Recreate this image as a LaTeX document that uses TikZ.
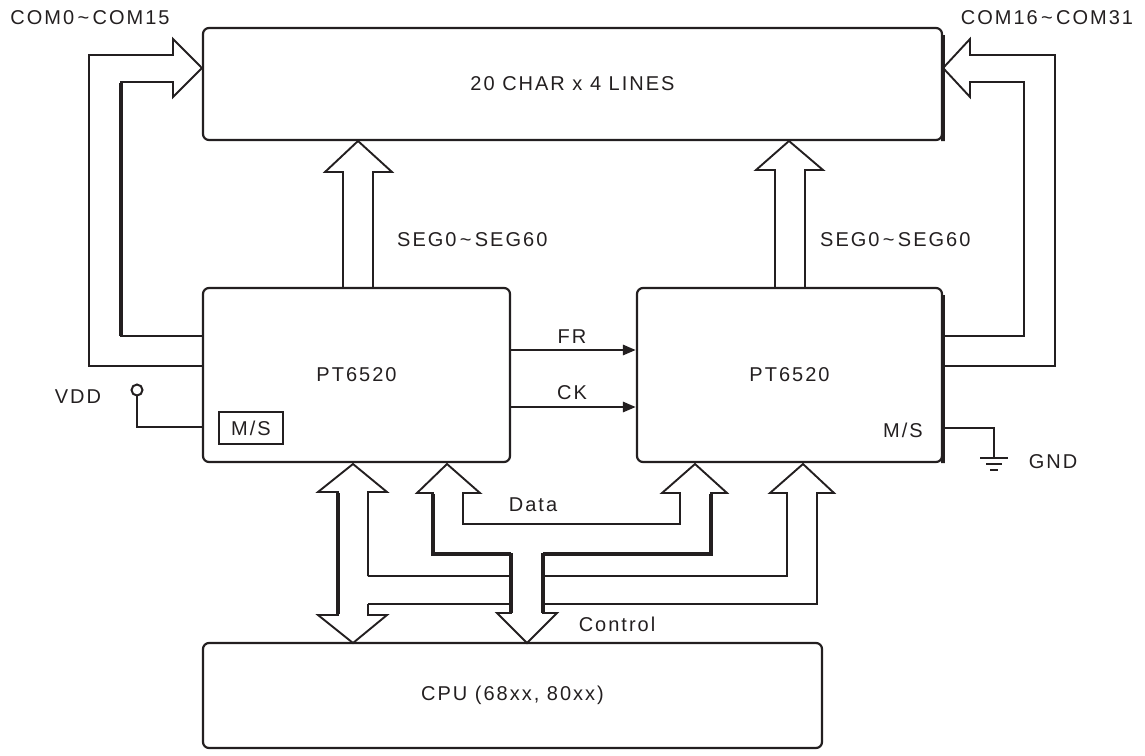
\documentclass[tikz,border=0pt]{standalone}
\usepackage{fontspec}
\setmainfont{Liberation Sans}[LetterSpace=10]
\usetikzlibrary{arrows.meta}
\definecolor{ink}{RGB}{35,31,32}
\begin{document}
\begin{tikzpicture}[x=1pt,y=-1pt,
  every node/.style={font=\fontsize{20}{24}\selectfont, text=ink, inner sep=0pt},
  box/.style={draw=ink, line width=2.2pt, rounded corners=6pt},
  bus/.style={draw=ink, line width=1.9pt, line join=miter},
  heavy/.style={draw=ink, line width=3.4pt},
  wire/.style={draw=ink, line width=2pt},
  sig/.style={draw=ink, line width=2.8pt, -{Triangle[length=13pt,width=10pt]}}]
\useasboundingbox (0,0) rectangle (1145,755);
% boxes
\node[box, minimum width=739pt, minimum height=112pt] (lcd) at (572.5,84) {20 CHAR x 4 LINES};
\node[box, minimum width=307pt, minimum height=174pt] (pa) at (356.5,375) {PT6520};
\node[box, minimum width=305pt, minimum height=174pt] (pb) at (789.5,375) {PT6520};
\node[box, minimum width=619pt, minimum height=105pt] (cpu) at (512.5,695.5) {CPU (68xx, 80xx)};
\node[draw=ink, line width=1.6pt, minimum width=64pt, minimum height=32pt] (msa) at (251,428) {M/S};
\node (msb) at (903,430) {M/S};
% labels
\node (com0) at (90,18) {COM0\,\char`~\,COM15};
\node (com16) at (1047,18) {COM16\,\char`~\,COM31};
\node[anchor=west] (sega) at (397,240) {SEG0\,\char`~\,SEG60};
\node[anchor=west] (segb) at (820,240) {SEG0\,\char`~\,SEG60};
\node (fr) at (572,337) {FR};
\node (ck) at (572,393) {CK};
\node (data) at (533,505) {Data};
\node (ctrl) at (617,624) {Control};
\node (vdd) at (78,397) {VDD};
\node (gnd) at (1053,462) {GND};
% COM buses
\draw[bus] (203,366) -- (89,366) -- (89,55) -- (173,55) -- (173,39) -- (lcd.west |- 0,68) -- (173,97) -- (173,82) -- (121,82) -- (121,336) -- (pa.west |- 0,336);
\draw[heavy] (121,83) -- (121,336);
\draw[bus] (942,366) -- (1055,366) -- (1055,55) -- (970,55) -- (970,39) -- (lcd.east |- 0,68) -- (970,97) -- (970,82) -- (1024,82) -- (1024,336) -- (pb.east |- 0,336);
\draw[heavy] (lcd.north east) ++(0,8) -- (lcd.south east) -- ++(0,-8);
\draw[heavy] (pb.north east) ++(0,8) -- (pb.south east) -- ++(0,-8);
% SEG buses
\draw[bus] (343,288) -- (343,172) -- (325,172) -- (358,141) -- (392,172) -- (373,172) -- (373,288);
\draw[bus] (775,288) -- (775,170) -- (756,170) -- (789,141) -- (823,170) -- (805,170) -- (805,288);
% FR / CK
\draw[sig] (pa.east |- 0,350) -- (pb.west |- 0,350);
\draw[sig] (pa.east |- 0,407) -- (pb.west |- 0,407);
% VDD
\coordinate (vc) at (137,390);
\draw[wire] (vc) circle (5.5pt);
\draw[wire] (137,395.5) -- (137,427) -- (pa.west |- 0,427);
% GND
\draw[wire] (pb.east |- 0,428) -- (994,428) -- (994,458);
\draw[ink, line width=2.8pt] (980,458) -- (1008,458);
\draw[ink, line width=2.8pt] (986,464) -- (1002,464);
\draw[ink, line width=2.8pt] (990,470) -- (998,470);
% bottom buses
\draw[bus] (368,576) -- (368,492) -- (387,492) -- (353,464) -- (318,492) -- (338,492) -- (338,615) -- (318,615) -- (353,643) -- (387,615) -- (368,615) -- (368,604);
\draw[heavy] (338,493) -- (338,614);
\draw[bus] (368,576) -- (511,576);
\draw[bus] (368,604) -- (511,604);
\draw[bus] (543,576) -- (787,576) -- (787,493) -- (770,493) -- (803,464) -- (834,493) -- (817,493) -- (817,604) -- (543,604);
\draw[bus] (511,554) -- (511,613) -- (497,613) -- (527,643) -- (557,613) -- (543,613) -- (543,554);
\draw[heavy] (511,553) -- (511,613);
\draw[heavy] (543,553) -- (543,613);
\draw[bus] (511,554) -- (433,554) -- (433,493) -- (417,493) -- (447,464) -- (480,493) -- (463,493) -- (463,524) -- (680,524) -- (680,493) -- (662,493) -- (695,464) -- (727,493) -- (711,493) -- (711,554) -- (543,554);
\draw[heavy] (433,494) -- (433,554) -- (511,554);
\draw[heavy] (711,494) -- (711,554) -- (543,554);
\end{tikzpicture}
\end{document}
